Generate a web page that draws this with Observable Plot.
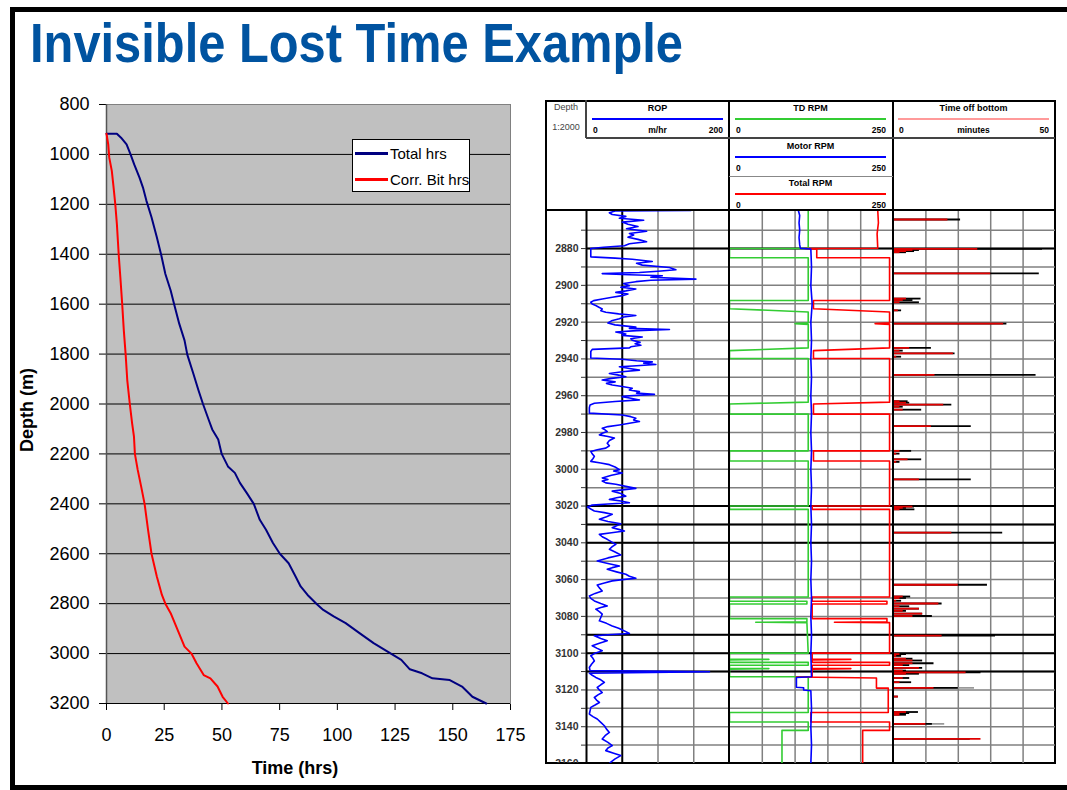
<!DOCTYPE html>
<html>
<head>
<meta charset="utf-8">
<script src="https://cdn.jsdelivr.net/npm/d3@7"></script>
<script src="https://cdn.jsdelivr.net/npm/@observablehq/plot@0.6"></script>
<style>
  html, body { margin:0; padding:0; background:#fff; }
  body { position:relative; width:1067px; height:790px; overflow:hidden; font-family:"Liberation Sans", Arial, Helvetica, sans-serif; }
  .a { position:absolute; }
  .t { position:absolute; white-space:nowrap; line-height:1; }
  #frame { position:absolute; left:10px; top:7px; width:1200px; height:773px; border:5px solid #000; border-right:none; }
</style>
</head>
<body>
<div id="frame"></div>
<svg class="a" style="left:0;top:0;overflow:visible" width="1060" height="95"><text x="30" y="62" textLength="653" lengthAdjust="spacingAndGlyphs" font-family="Liberation Sans, Arial, sans-serif" font-weight="bold" font-size="56" fill="#0053A0">Invisible Lost Time Example</text></svg>
<div id="left" class="a" style="left:15px;top:90px"></div>
<div id="logbox" class="a" style="left:545px;top:100px;width:511px;height:664px;border:2px solid #000;box-sizing:border-box;"></div>
<div id="rop" class="a" style="left:546px;top:210px"></div>
<div id="rpm" class="a" style="left:729px;top:210px"></div>
<div id="tob" class="a" style="left:893px;top:210px"></div>
<script>
// ---------------- Left chart data ----------------
const timeTicks = [0, 25, 50, 75, 100, 125, 150, 175];
const depthTicks = [800, 1000, 1200, 1400, 1600, 1800, 2000, 2200, 2400, 2600, 2800, 3000, 3200];
const depthGrid = [1000, 1200, 1400, 1600, 1800, 2000, 2200, 2400, 2600, 2800, 3000, 3200];
const seriesNames = ["Total hrs", "Corr. Bit hrs"];
const totalHrsLog = [[917,0],[917,4.5],[933,6.3],[960,8.7],[1002,10.5],[1040,12],[1093,14.3],[1133,15.8],[1186,17.3],[1252,19.5],[1332,21.8],[1403,23.7],[1479,25.5],[1545,27.8],[1600,29.3],[1678,31.5],[1745,33.8],[1802,35],[1878,37.6],[1944,39.8],[2000,41.8],[2064,44.3],[2102,45.8],[2142,48.4],[2200,49.9],[2250,52.6],[2276,55.6],[2316,57.8],[2357,60.8],[2400,63.8],[2464,66.4],[2504,69.1],[2557,72.1],[2600,75.1],[2638,78.9],[2691,81.9],[2731,84.1],[2765,87.1],[2800,90.9],[2825,93.9],[2851,98.4],[2878,103.6],[2918,109.6],[2958,115.7],[3000,123.2],[3025,127.7],[3063,131.4],[3079,136.7],[3099,141.2],[3106,148.7],[3132,154],[3173,158.5],[3200,164.5]];
const bitHrsLog = [[917,0],[960,0.75],[1013,1.2],[1066,2.3],[1126,3],[1199,3.8],[1279,4.5],[1403,5.3],[1492,6],[1600,6.8],[1705,7.5],[1802,8.3],[1905,9],[2000,10.1],[2078,11.1],[2131,11.9],[2200,12.3],[2263,13.5],[2330,15],[2400,16.5],[2504,18],[2600,19.5],[2691,21.8],[2765,24],[2800,25.5],[2838,27.8],[2905,30.8],[2972,33.8],[3000,36.8],[3039,39],[3086,42.1],[3099,45],[3132,48.1],[3173,50.3],[3200,52.6]];

// ---------------- Log panel data ----------------
const logDomain = [2859.3, 3160];
const logTicks = [2870,2880,2890,2900,2910,2920,2930,2940,2950,2960,2970,2980,2990,3000,3010,3020,3030,3040,3050,3060,3070,3080,3090,3100,3110,3120,3130,3140,3150,3160];
const logGridDepths = [2870,2880,2890,2900,2910,2920,2930,2940,2950,2960,2970,2980,2990,3000,3010,3020,3030,3040,3050,3060,3070,3080,3090,3100,3110,3120,3130,3140,3150];
const logBoldDepths = [2880, 3020, 3030, 3040, 3090, 3100, 3110];
const ropGrid = [100, 150];
const ropBold = [0, 50];
const rpmGrid = [50, 100, 150, 200];
const tobGrid = [10, 20, 30, 40];

const ropLog = [[2859.3,146],[2859.6,40],[2860.5,32],[2861.5,36],[2862.5,55],[2863.5,46],[2864.6,80],[2865.6,50],[2866.8,58],[2868,72],[2869.2,56],[2870.6,84],[2871.8,60],[2872.6,66],[2873.8,58],[2875,72],[2876.3,84],[2877.4,60],[2878.5,53],[2879.3,24],[2880,6],[2882,6],[2884.5,6],[2885.2,40],[2885.8,64],[2887,92],[2888,70],[2889,78],[2890.3,116],[2891.5,125],[2892.3,100],[2893,74],[2893.6,22],[2894.2,60],[2894.8,106],[2895.6,90],[2896.6,153],[2897.2,90],[2898,69],[2899,52],[2900.2,60],[2901,48],[2902,69],[2903,55],[2903.8,41],[2904.7,58],[2905.6,50],[2906.5,36],[2907.4,22],[2908.3,10],[2909.2,6],[2910.2,8],[2911,13],[2912,18],[2912.8,22],[2913.8,20],[2914.6,27],[2915.5,45],[2916.4,69],[2917.2,52],[2918.2,46],[2919.3,35],[2920.5,30],[2921.5,40],[2922.7,69],[2923.4,60],[2924,116],[2924.6,70],[2925.4,41],[2926.5,55],[2927.2,50],[2928.1,78],[2929,62],[2929.9,64],[2931,75],[2931.8,68],[2932.6,76],[2933.4,62],[2934,60],[2934.8,8],[2936,6],[2938,6],[2939.5,6],[2940.2,50],[2941,70],[2941.6,92],[2942.3,80],[2943,97],[2943.7,70],[2944.3,46],[2945.2,60],[2946.1,74],[2947,50],[2947.9,32],[2948.8,45],[2949.7,55],[2950.6,35],[2951.5,22],[2952.5,40],[2953.3,28],[2954.2,36],[2955,50],[2956,64],[2956.9,60],[2957.8,74],[2958.6,70],[2959.3,95],[2960,60],[2960.5,50],[2961.4,62],[2962.3,74],[2963.2,40],[2964.1,11],[2965,5],[2966.5,4],[2968,4],[2969.5,4],[2970.5,50],[2971.4,62],[2972.3,69],[2973.2,66],[2974,74],[2975,60],[2975.9,46],[2976.8,30],[2977.7,22],[2978.6,26],[2979.5,29],[2980.4,22],[2981.3,18],[2982.2,30],[2983,39],[2984.4,32],[2985.8,29],[2987.2,32],[2988.5,27],[2989.4,15],[2990.3,6],[2991.6,8],[2993,11],[2994.3,9],[2995.7,6],[2996.6,20],[2997.5,32],[2998.8,40],[3000.2,46],[3001,38],[3002,50],[3003.3,35],[3004.7,22],[3005.6,30],[3006.4,22],[3007.4,27],[3008.2,41],[3009.3,55],[3010.4,69],[3011.2,50],[3011.9,36],[3013.2,48],[3014.6,55],[3015.5,42],[3016.4,32],[3017.3,48],[3018.2,60],[3018.9,30],[3019.5,8],[3020.5,1.5],[3021.6,6],[3022.7,11],[3023.6,25],[3024.5,36],[3025.8,28],[3027.2,18],[3028.4,30],[3029.6,48],[3030.7,42],[3031.8,36],[3032.7,45],[3033.6,53],[3034.5,35],[3035.4,18],[3036.7,22],[3038.1,29],[3039.5,35],[3040.8,41],[3042.1,36],[3043.5,32],[3045,40],[3046.6,48],[3048.2,30],[3049.9,15],[3051.2,30],[3052.6,46],[3053.5,36],[3054.4,29],[3055.8,42],[3057.1,55],[3058.2,60],[3059.3,69],[3060,50],[3060.7,36],[3061.8,25],[3062.9,15],[3064.5,18],[3066.2,22],[3067.5,12],[3068.9,4],[3070.2,6],[3071.6,11],[3073,20],[3074.3,29],[3075.2,20],[3076.1,13],[3077.4,18],[3078.8,22],[3080.6,20],[3082.4,18],[3083.8,28],[3085.2,36],[3086.5,45],[3087.9,53],[3089.3,60],[3090,30],[3090.6,11],[3092,20],[3093.3,29],[3094.6,18],[3096,8],[3097.4,15],[3098.7,22],[3100,12],[3101.4,6],[3102.8,9],[3104.2,11],[3106,7],[3107.8,4],[3109.5,5],[3110.1,172],[3110.5,90],[3110.9,4],[3112,8],[3113.2,13],[3114.5,20],[3115.9,25],[3117.2,20],[3118.6,15],[3120,18],[3121.4,22],[3122.7,16],[3124.1,11],[3125.5,14],[3126.8,18],[3128.2,12],[3129.5,6],[3131.3,5],[3133.1,4],[3134.5,9],[3135.8,15],[3137.6,20],[3139.5,25],[3141.3,28],[3143.1,32],[3144.9,26],[3146.7,22],[3148.5,30],[3150.3,36],[3151.6,30],[3153,27],[3154.4,38],[3155.7,48],[3157.5,40],[3159.3,34],[3160,32]];

const tdRpmLog = [[2859.3,120],[2880,120],[2880,0],[2885,0],[2885,120],[2908.2,120],[2908.2,0],[2912.7,0],[2914.5,120],[2920.4,120],[2920.8,100],[2921.2,120],[2934,120],[2935.5,0],[2939.8,0],[2939.8,120],[2963.5,120],[2964.5,0],[2970,0],[2970,120],[2990,120],[2990,0],[2995.5,0],[2995.5,120],[3020,120],[3020,0],[3021.8,0],[3021.8,120],[3069.5,120],[3069.5,0],[3071.8,0],[3071.8,118],[3073.3,118],[3073.3,0],[3081.2,0],[3081.2,118],[3083,118],[3083.2,40],[3083.4,118],[3100,120],[3100,0],[3103.4,0],[3103.4,60],[3103.7,0],[3105,0],[3105,120],[3106.6,120],[3106.6,0],[3108.4,0],[3108.4,60],[3108.7,0],[3112.8,0],[3112.8,120],[3132.3,120],[3132.3,0],[3137.4,0],[3137.4,120],[3142,120],[3142,80],[3160,80]];

const motorRpmLog = [[2859.3,105],[2862,107],[2866,106],[2870,107],[2874,106],[2878,107],[2879.8,108],[2880.2,124],[2890,125],[2900,124],[2910,126],[2920,124],[2930,125],[2940,124],[2950,125],[2960,124],[2970,125],[2980,124],[2990,125],[3000,124],[3010,125],[3020,124],[3030,125],[3040,124],[3050,125],[3060,124],[3070,125],[3080,124],[3090,125],[3100,124],[3112.8,125],[3113.2,102],[3118.5,102],[3118.8,113],[3120,113],[3120.4,124],[3130,125],[3140,124],[3150,125],[3160,124]];

const totalRpmLog = [[2859.3,226],[2866,227],[2872,225],[2879.8,226],[2880,115],[2880.4,133],[2885,133],[2885,244],[2908.2,244],[2908.2,128],[2912.7,128],[2914.5,244],[2920.4,244],[2920.8,222],[2921.2,244],[2934,244],[2935.5,128],[2939.8,128],[2939.8,244],[2963.5,244],[2964.5,128],[2970,128],[2970,244],[2990,244],[2990,128],[2995.5,128],[2995.5,244],[3020,244],[3020,126],[3021.8,126],[3021.8,244],[3069.5,244],[3069.5,126],[3071.8,126],[3071.8,240],[3073.3,240],[3073.3,126],[3081.2,126],[3081.2,240],[3083,240],[3083.2,160],[3083.4,244],[3100,244],[3100,126],[3103.4,126],[3103.4,185],[3103.7,126],[3105,126],[3105,244],[3106.6,244],[3106.6,126],[3108.4,126],[3108.4,185],[3108.7,126],[3112.8,126],[3113,102],[3113.5,224],[3119,224],[3119,242],[3132.3,242],[3132.3,124],[3137.4,124],[3137.4,244],[3142,244],[3142,203],[3160,203]];

// time off bottom: [depth, black minutes, red minutes]
const tobLog = [[2864.2,20.7,16.8],[2880.2,46,26],[2880.8,8,6],[2881.4,6.5,4],[2882,4,2],[2893.5,45,30],[2907.2,8.5,4],[2908,6,3],[2909.2,8,2],[2913.6,2.5,1.5],[2920.8,35,34],[2934,11.7,5],[2935.5,3,2],[2937,19,18.5],[2938.8,2.5,1],[2948.7,44,12.8],[2963,4.5,2],[2963.8,5,4],[2964.9,18,15.5],[2966,3,2],[2967.6,8.7,3],[2976.6,24,11.7],[2990,5.6,2],[2991.5,2,1],[2994.6,8.7,4.5],[2996,2,1],[3005.5,24,8],[3020.3,6.5,6],[3021,4,3],[3021.8,6.6,2],[3034.5,33.7,18],[3062.8,29,20],[3069.2,5.3,3],[3070,4,2],[3071.5,2.5,1],[3073,15,14],[3074.5,5,2],[3075.8,8,8],[3077,4,3],[3078.5,9,9],[3079.8,12,6],[3090.5,31.5,15],[3100.5,4,2],[3101.5,2.5,1],[3103,6,4],[3104,9,6],[3105.5,12.5,6],[3106.5,5,3],[3108,9,8],[3109.5,4,3],[3110.5,27,22.4],[3111.2,8,4],[3113.5,5,3],[3115.8,5.6,2],[3118.9,20,12.5],[3123.6,1.5,1.5],[3132,7.7,4],[3132.6,5,2],[3133.5,4,2],[3138.4,12,10],[3146.6,23.7,27]];
const tobGrayLog = [[3118.9,25],[3138.4,15.8]];

// header texts
const headerTracks = [
  {title: "ROP", unit: "m/hr", lo: "0", hi: "200", color: "#0000FF", x0: 592, x1: 723, y: 108},
  {title: "TD RPM", unit: "", lo: "0", hi: "250", color: "#33CC33", x0: 735, x1: 886, y: 108},
  {title: "Time off bottom", unit: "minutes", lo: "0", hi: "50", color: "#FF9A9A", x0: 898, x1: 1049, y: 108},
  {title: "Motor RPM", unit: "", lo: "0", hi: "250", color: "#0000FF", x0: 735, x1: 886, y: 146},
  {title: "Total RPM", unit: "", lo: "0", hi: "250", color: "#FF0000", x0: 735, x1: 886, y: 183}
];

// ---------------- helpers ----------------
function T(txt, x, y, o = {}) {
  const d = document.createElement("div");
  d.className = "t";
  d.textContent = txt;
  const anchor = o.anchor || "middle";
  const tx = anchor === "start" ? "0" : anchor === "end" ? "-100%" : "-50%";
  d.style.left = x + "px";
  d.style.top = y + "px";
  d.style.fontSize = (o.size || 9) + "px";
  d.style.fontWeight = o.weight || "bold";
  d.style.color = o.color || "#000";
  d.style.transform = `translate(${tx},-50%)`;
  document.body.appendChild(d);
  return d;
}
function L(x, y, w, h, color) {
  const d = document.createElement("div");
  d.className = "a";
  Object.assign(d.style, {left: x + "px", top: y + "px", width: w + "px", height: h + "px", background: color});
  document.body.appendChild(d);
  return d;
}
const font = "Liberation Sans, Arial, Helvetica, sans-serif";

// ---------------- Left chart ----------------
const leftData = [
  ...totalHrsLog.map(([d, t]) => ({series: seriesNames[0], depth: d, hrs: t})),
  ...bitHrsLog.map(([d, t]) => ({series: seriesNames[1], depth: d, hrs: t}))
];
const left = Plot.plot({
  width: 520, height: 695,
  marginLeft: 91, marginRight: 25, marginTop: 14, marginBottom: 82,
  style: {background: "transparent", fontFamily: font, fontSize: "18px", color: "#000"},
  x: {domain: [0, 175], ticks: timeTicks, tickSize: 7, tickPadding: 18, label: null, tickFormat: d => String(d)},
  y: {domain: [800, 3200], reverse: true, ticks: depthTicks, tickSize: 7, tickPadding: 10, label: null, tickFormat: d => String(d)},
  color: {domain: seriesNames, range: ["#000080", "#FF0000"]},
  marks: [
    Plot.frame({fill: "#C0C0C0", stroke: "#808080"}),
    Plot.ruleY(depthGrid, {stroke: "#000", strokeWidth: 1}),
    Plot.ruleX([0], {stroke: "#555", strokeWidth: 1.5}),
    Plot.line(leftData, {x: "hrs", y: "depth", z: "series", stroke: "series", strokeWidth: 2})
  ]
});
document.getElementById("left").appendChild(left);

const yl = T("Depth (m)", 18, 452, {size: 18, anchor: "start"});
yl.style.transform = "rotate(-90deg)";
yl.style.transformOrigin = "0 0";
T("Time (hrs)", 295, 768, {size: 18});

// legend
const lg = document.createElement("div");
lg.className = "a";
Object.assign(lg.style, {left: "352px", top: "139px", width: "118px", height: "53px", background: "#fff", border: "1px solid #000", boxSizing: "border-box"});
document.body.appendChild(lg);
L(355, 152, 33, 2.5, "#000080");
L(355, 178, 33, 2.5, "#FF0000");
T(seriesNames[0], 390, 153, {size: 15, weight: "normal", anchor: "start"});
T(seriesNames[1], 390, 179, {size: 15, weight: "normal", anchor: "start"});

// ---------------- Log panel ----------------
const H = 553;
const yLog = {domain: logDomain, reverse: true};
const baseStyle = {background: "transparent", fontFamily: font, fontSize: "10.5px", color: "#333", overflow: "hidden"};
const gridMarks = [
  Plot.ruleY(logGridDepths, {stroke: "#808080", strokeWidth: 1.5}),
  Plot.ruleY(logBoldDepths, {stroke: "#000", strokeWidth: 2})
];

const ropPlot = Plot.plot({
  width: 183, height: H, marginLeft: 40, marginRight: 0, marginTop: 0, marginBottom: 0,
  style: baseStyle,
  x: {domain: [0, 200], axis: null},
  y: yLog,
  marks: [
    Plot.ruleX(ropGrid, {stroke: "#808080", strokeWidth: 1.5}),
    ...gridMarks,
    Plot.ruleX(ropBold, {stroke: "#000", strokeWidth: 2}),
    Plot.axisY(logTicks, {tickSize: 5, tickPadding: 3, fontWeight: "bold", tickFormat: d => d % 20 === 0 ? String(d) : "", label: null}),
    Plot.line(ropLog, {x: d => d[1], y: d => d[0], stroke: "#0000FF", strokeWidth: 1.6, clip: true})
  ]
});
document.getElementById("rop").appendChild(ropPlot);

const rpmPlot = Plot.plot({
  width: 164, height: H, margin: 0,
  style: baseStyle,
  x: {domain: [0, 250], axis: null},
  y: {...yLog, axis: null},
  marks: [
    Plot.ruleX(rpmGrid, {stroke: "#808080", strokeWidth: 1.5}),
    ...gridMarks,
    Plot.line(tdRpmLog, {x: d => d[1], y: d => d[0], stroke: "#33CC33", strokeWidth: 1.6, clip: true}),
    Plot.line(totalRpmLog, {x: d => d[1], y: d => d[0], stroke: "#FF0000", strokeWidth: 1.6, clip: true}),
    Plot.line(motorRpmLog, {x: d => d[1], y: d => d[0], stroke: "#0000FF", strokeWidth: 1.6, clip: true})
  ]
});
document.getElementById("rpm").appendChild(rpmPlot);

const tobPlot = Plot.plot({
  width: 162, height: H, margin: 0,
  style: baseStyle,
  x: {domain: [0, 50], axis: null},
  y: {...yLog, axis: null},
  marks: [
    Plot.ruleX(tobGrid, {stroke: "#808080", strokeWidth: 1.5}),
    ...gridMarks,
    Plot.ruleY(tobGrayLog, {y: d => d[0], x1: 0, x2: d => d[1], stroke: "#999", strokeWidth: 1.8}),
    Plot.ruleY(tobLog, {y: d => d[0], x1: 0, x2: d => d[1], stroke: "#000", strokeWidth: 1.8}),
    Plot.ruleY(tobLog, {y: d => d[0], x1: 0, x2: d => d[2], stroke: "#E00000", strokeWidth: 1.8})
  ]
});
document.getElementById("tob").appendChild(tobPlot);

// structural borders of the log panel
L(728, 100, 2, 664, "#000");
L(892, 100, 2, 664, "#000");
L(585, 100, 2, 38, "#444");
L(586, 137, 469, 2, "#444");
L(729, 175.5, 164, 1.5, "#888");
L(545, 209, 511, 2, "#000");

// header texts
T("Depth", 566, 107, {size: 9, weight: "normal", color: "#444"});
T("1:2000", 566, 127, {size: 9, weight: "normal", color: "#444"});
for (const h of headerTracks) {
  const cx = (h.x0 + h.x1) / 2;
  T(h.title, cx, h.y, {size: 9});
  L(h.x0, h.y + 10, h.x1 - h.x0, 2, h.color);
  T(h.lo, h.x0 + 1, h.y + 22, {size: 8.5, anchor: "start"});
  if (h.unit) T(h.unit, cx, h.y + 22, {size: 8.5});
  T(h.hi, h.x1, h.y + 22, {size: 8.5, anchor: "end"});
}
</script>
</body>
</html>
